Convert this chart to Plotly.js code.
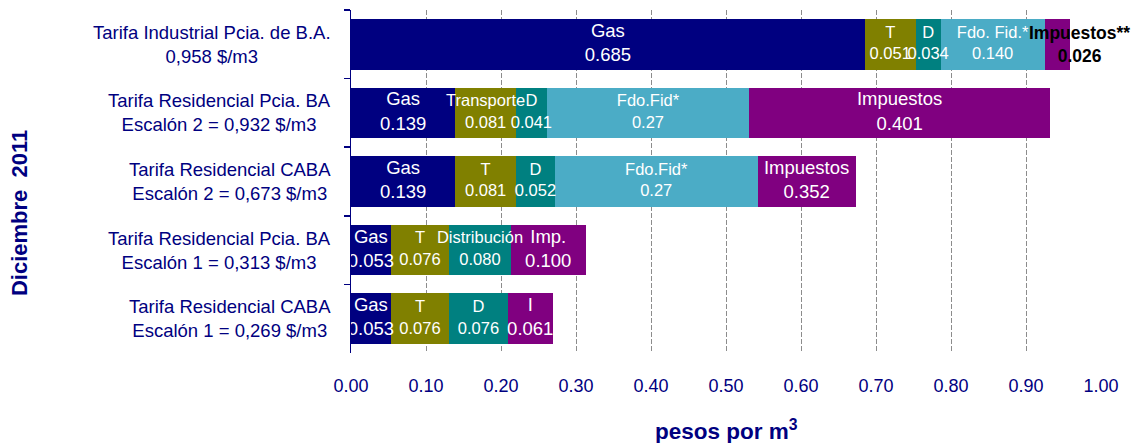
<!DOCTYPE html>
<html>
<head>
<meta charset="utf-8">
<script src="https://cdn.plot.ly/plotly-3.0.1.min.js"></script>
<style>html,body{margin:0;padding:0;background:#fff;}#chart{width:1141px;height:443px;}</style>
</head>
<body>
<div id="chart"></div>
<script>
// ---- data ----
const categories = [
  "Tarifa Industrial Pcia. de B.A.<br>0,958 $/m3",
  "Tarifa Residencial Pcia. BA<br>Escalón 2 = 0,932 $/m3",
  "Tarifa Residencial CABA<br>Escalón 2 = 0,673 $/m3",
  "Tarifa Residencial Pcia. BA<br>Escalón 1 = 0,313 $/m3",
  "Tarifa Residencial CABA<br>Escalón 1 = 0,269 $/m3"
];
// bar lengths as drawn in the picture
const gasVals   = [0.685, 0.139, 0.139, 0.053, 0.053];
const transVals = [0.068, 0.081, 0.081, 0.078, 0.078];
const distVals  = [0.033, 0.041, 0.052, 0.082, 0.078];
const fdoVals   = [0.139, 0.270, 0.270, 0.000, 0.000];
const impVals   = [0.033, 0.401, 0.131, 0.100, 0.060];
// labels printed on the segments
const gasText   = ["Gas<br>0.685", "Gas<br>0.139", "Gas<br>0.139", "Gas<br>0.053", "Gas<br>0.053"];
const transText = ["T<br>0.051", "Transporte<br>0.081", "T<br>0.081", "T<br>0.076", "T<br>0.076"];
const distText  = ["D<br>0.034", "D<br>0.041", "D<br>0.052", "Distribución<br>0.080", "D<br>0.076"];
const fdoText   = ["Fdo. Fid.*<br>0.140", "Fdo.Fid*<br>0.27", "Fdo.Fid*<br>0.27", "", ""];
const impText   = ["Impuestos**<br>0.026", "Impuestos<br>0.401", "Impuestos<br>0.352", "Imp.<br>0.100", "I<br>0.061"];
const seriesNames = ["Gas", "Transporte", "Distribución", "Fondo Fiduciario", "Impuestos"];
const yTitle = "Diciembre&nbsp; 2011";
const xTitle = "pesos por m<sup>3</sup>";

// ---- styles ----
const NAVY = "#000080";
const FONT = "Arial, 'Liberation Sans', sans-serif";
const colors = ["#000080", "#808000", "#008080", "#4BACC6", "#800080"];
const BIG = 18.5, SMALL = 16.5;
const seriesSize = [BIG, SMALL, SMALL, SMALL, BIG];
const valsList = [gasVals, transVals, distVals, fdoVals, impVals];
const textList = [gasText, transText, distText, fdoText, impText.map((t, i) => i === 0 ? "" : t)];

const traces = valsList.map((vals, k) => ({
  type: "bar",
  orientation: "h",
  name: seriesNames[k],
  y: categories,
  x: vals,
  marker: {color: colors[k], line: {width: 0}},
  hoverinfo: "none"
}));

// labels on top of all bars, centred in each segment
const starts = categories.map(() => 0);
valsList.forEach((vals, k) => {
  const xs = vals.map((v, i) => starts[i] + v / 2);
  vals.forEach((v, i) => { starts[i] += v; });
  const idx = textList[k].map((t, i) => i).filter(i => textList[k][i] !== "");
  traces.push({
    type: "scatter", mode: "text",
    x: idx.map(i => xs[i]), y: idx.map(i => categories[i]),
    text: idx.map(i => textList[k][i]),
    textposition: "middle center",
    cliponaxis: false,
    textfont: {family: FONT, color: "#ffffff", size: seriesSize[k]},
    hoverinfo: "none", showlegend: false
  });
});
const total0 = starts[0];

const annotations = categories.map((c, i) => ({
  xref: "paper", x: 0, xanchor: "right", xshift: -18,
  yref: "y", y: i, yanchor: "middle",
  text: c, showarrow: false, align: "center",
  font: {family: FONT, size: 18.5, color: NAVY}
}));
annotations.push({
  xref: "x", x: total0 + 0.013, xanchor: "center",
  yref: "y", y: 0, yanchor: "middle",
  text: "<b>" + impText[0] + "</b>", showarrow: false, align: "center",
  font: {family: FONT, size: 17.5, color: "#000000"}
});
annotations.push({
  xref: "paper", x: 0, xshift: -332, xanchor: "center",
  yref: "paper", y: 0.408, yanchor: "middle",
  text: "<b>" + yTitle + "</b>", textangle: -90, showarrow: false,
  font: {family: FONT, size: 22, color: NAVY}
});
annotations.push({
  xref: "paper", x: 0.5, xanchor: "center",
  yref: "paper", y: 0, yanchor: "middle", yshift: -77,
  text: "<b>" + xTitle + "</b>", showarrow: false,
  font: {family: FONT, size: 22.5, color: NAVY}
});

const layout = {
  width: 1141, height: 443,
  margin: {l: 351, r: 40, t: 10, b: 90},
  paper_bgcolor: "#ffffff", plot_bgcolor: "#ffffff",
  barmode: "stack", bargap: 0.26, showlegend: false,
  font: {family: FONT, color: NAVY},
  xaxis: {
    range: [0, 1], tick0: 0, dtick: 0.1, tickformat: ".2f",
    showgrid: true, gridcolor: "#8c8c8c", gridwidth: 1, griddash: "5px,2px",
    zeroline: false, showline: false, ticks: "",
    ticklabelstandoff: 20,
    tickfont: {family: FONT, size: 18, color: NAVY}
  },
  yaxis: {
    type: "category", autorange: "reversed",
    showticklabels: false, ticks: "outside", tickson: "boundaries",
    ticklen: 6, tickwidth: 1.5, tickcolor: NAVY,
    showline: true, linecolor: NAVY, linewidth: 1.5,
    showgrid: false, zeroline: false
  },
  annotations: annotations
};

Plotly.newPlot("chart", traces, layout, {staticPlot: true, displayModeBar: false});
</script>
</body>
</html>
